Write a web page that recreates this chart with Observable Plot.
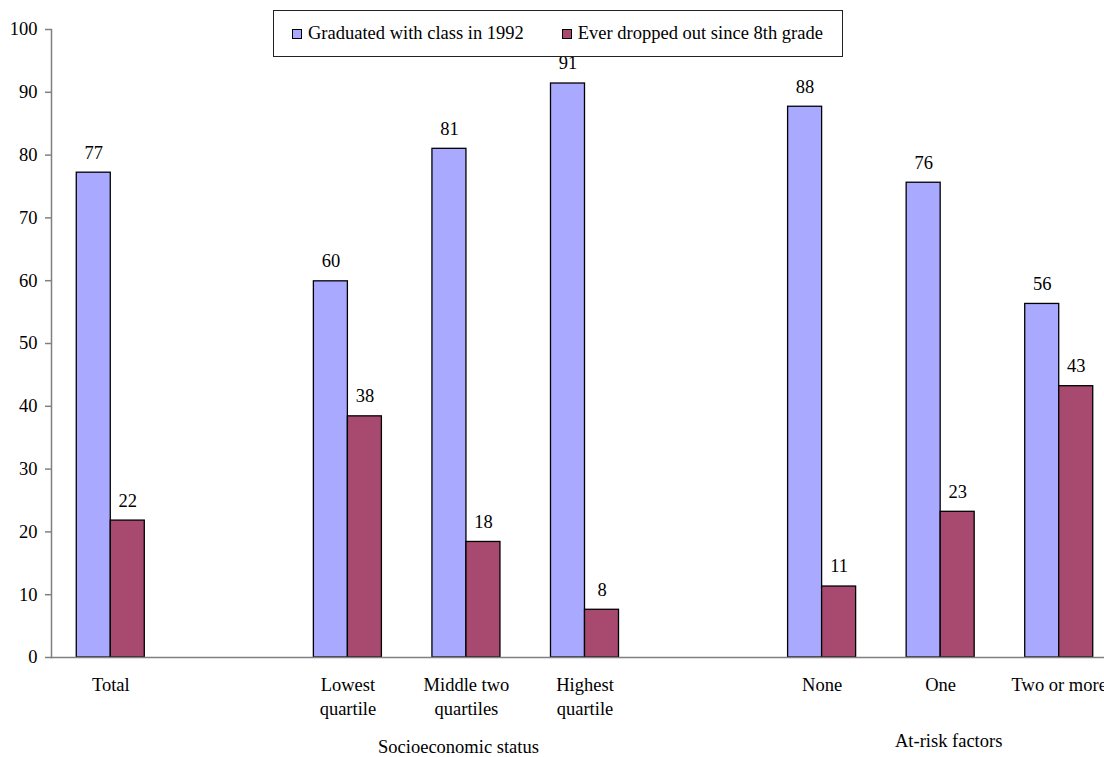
<!DOCTYPE html>
<html>
<head>
<meta charset="utf-8">
<script src="https://cdn.jsdelivr.net/npm/d3@7"></script>
<script src="https://cdn.jsdelivr.net/npm/@observablehq/plot@0.6"></script>
<style>
  html, body { margin: 0; padding: 0; background: #fff; overflow: hidden; }
  #wrap { position: relative; width: 1104px; height: 757px; overflow: hidden; font-family: "Liberation Serif", "Times New Roman", serif; }
  #chart { position: absolute; left: 0; top: 0; width: 1118px; }
  #chart svg { max-width: none !important; }
  #legend { position: absolute; left: 273px; top: 10px; width: 568px; height: 45px; border: 1px solid #222; background: #fff;
            display: flex; align-items: center; font-size: 18.5px; color: #000; z-index: 2; box-sizing: content-box; white-space: nowrap; }
  #legend .item { display: flex; align-items: center; }
  #legend .sw { width: 8px; height: 8px; border: 1px solid #000; margin-right: 6px; }
</style>
</head>
<body>
<div id="wrap">
  <div id="chart"></div>
  <div id="legend"></div>
</div>
<script>
// ---- data ----
const categories = ["Total", "Lowest quartile", "Middle two quartiles", "Highest quartile", "None", "One", "Two or more"];
const categoryLabels = ["Total", "Lowest\nquartile", "Middle two\nquartiles", "Highest\nquartile", "None", "One", "Two or more"];
const slots = ["Total", "gap1", "Lowest quartile", "Middle two quartiles", "Highest quartile", "gap2", "None", "One", "Two or more"];
const seriesNames = ["Graduated with class in 1992", "Ever dropped out since 8th grade"];
const graduated = [77.2, 59.9, 81.0, 91.4, 87.7, 75.6, 56.3];
const droppedOut = [21.8, 38.4, 18.4, 7.6, 11.3, 23.2, 43.2];
const seriesColors = ["#A9A9FF", "#A8496F"];
const groupLabels = [
  {cat: "Middle two quartiles", label: "Socioeconomic status"},
  {cat: "One", label: "At-risk factors"}
];
const yTicks = [0, 10, 20, 30, 40, 50, 60, 70, 80, 90, 100];

// ---- table ----
const rows = [];
categories.forEach((c, i) => {
  rows.push({cat: c, series: seriesNames[0], value: graduated[i]});
  rows.push({cat: c, series: seriesNames[1], value: droppedOut[i]});
});
const labelOf = new Map(categories.map((c, i) => [c, categoryLabels[i]]));

const plot = Plot.plot({
  width: 1118,
  height: 757,
  marginLeft: 51,
  marginRight: 0,
  marginTop: 29,
  marginBottom: 100,
  style: {fontFamily: "Liberation Serif, Times New Roman, serif", fontSize: "18.5px", background: "transparent", color: "#000"},
  fx: {domain: slots, padding: 0, round: false, axis: null},
  x: {domain: seriesNames, paddingInner: 0, paddingOuter: 0.743, align: 0.5, round: false, axis: null},
  y: {domain: [0, 100], axis: null},
  color: {domain: seriesNames, range: seriesColors},
  marks: [
    Plot.barY(rows, {fx: "cat", x: "series", y: "value", fill: "series", stroke: "#000", strokeWidth: 1.3}),
    Plot.text(rows, {fx: "cat", x: "series", y: "value", text: d => String(Math.round(d.value)), dy: -20, fill: "#000"}),
    Plot.frame({anchor: "left", facet: "super", stroke: "#808080", strokeWidth: 1.5}),
    Plot.frame({anchor: "bottom", facet: "super", stroke: "#808080", strokeWidth: 1.5}),
    Plot.axisY(yTicks, {fx: yTicks.map(() => "Total"), facetAnchor: null, label: null, tickSize: 6, tickPadding: 8,
      stroke: "#808080", strokeWidth: 1.5, fill: "#000", tickFormat: d => String(d)}),
    Plot.axisFx({anchor: "bottom", label: null, tickSize: 0, tickPadding: 16, lineHeight: 1.3,
      tickFormat: d => labelOf.get(d) ?? "", fill: "#000"}),
    Plot.text(groupLabels.slice(0, 1), {fx: "cat", text: "label", frameAnchor: "bottom", lineAnchor: "middle", dy: 90, dx: -8, fill: "#000"}),
    Plot.text(groupLabels.slice(1), {fx: "cat", text: "label", frameAnchor: "bottom", lineAnchor: "middle", dy: 84, dx: 8, fill: "#000"})
  ]
});
document.getElementById("chart").appendChild(plot);

// ---- legend ----
const legend = document.getElementById("legend");
seriesNames.forEach((name, i) => {
  const item = document.createElement("div");
  item.className = "item";
  item.style.marginLeft = i === 0 ? "18px" : "38px";
  const sw = document.createElement("div");
  sw.className = "sw";
  sw.style.background = seriesColors[i];
  const t = document.createElement("span");
  t.textContent = name;
  item.appendChild(sw);
  item.appendChild(t);
  legend.appendChild(item);
});
</script>
</body>
</html>
